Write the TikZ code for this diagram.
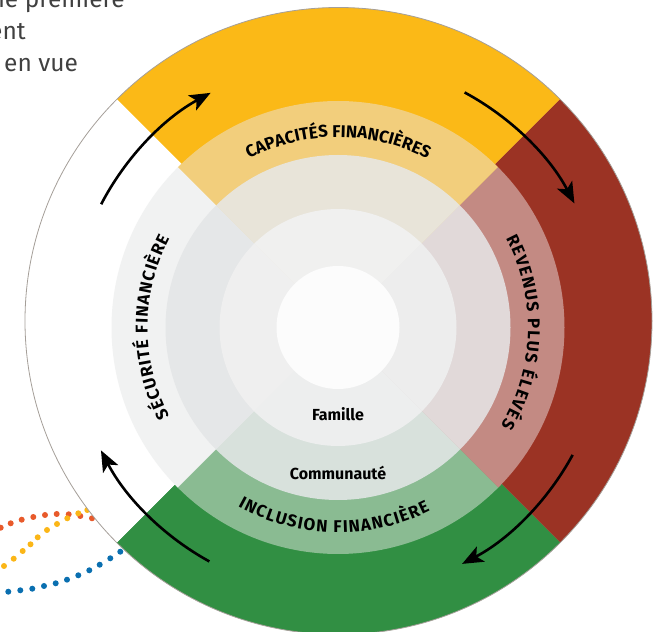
\documentclass[tikz,border=0pt]{standalone}
\usepackage{fontspec}
\setmainfont{Fira Sans}
\usetikzlibrary{decorations.text,arrows.meta,calc}
\definecolor{cyel}{HTML}{FBB917}
\definecolor{cred}{HTML}{9B3324}
\definecolor{cgrn}{HTML}{318F43}
\definecolor{lyel}{HTML}{F2CE7C}
\definecolor{lred}{HTML}{C38A83}
\definecolor{lgrn}{HTML}{8ABB92}
\definecolor{lwht}{HTML}{F1F2F2}
\definecolor{pyel}{HTML}{E8E4D9}
\definecolor{pred}{HTML}{E1D9D9}
\definecolor{pgrn}{HTML}{D8E1DC}
\definecolor{pwht}{HTML}{E5E7E8}
\definecolor{fyel}{HTML}{F0F0EF}
\definecolor{fred}{HTML}{EDEDED}
\definecolor{fgrn}{HTML}{EDEEEE}
\definecolor{fwht}{HTML}{EFEFEF}
\definecolor{core}{HTML}{FCFCFC}
\definecolor{rim}{HTML}{A59F99}
\definecolor{dotr}{HTML}{E85A2B}
\definecolor{doty}{HTML}{FBB617}
\definecolor{dotb}{HTML}{0A6FB0}
\definecolor{para}{HTML}{404040}
\newcommand{\lblfont}{\fontsize{17}{17}\selectfont\bfseries}
\begin{document}
\begin{tikzpicture}[x=1pt,y=1pt,
  cyclearrow/.style={line width=2.6pt,-{Stealth[length=21pt,width=17pt,inset=5pt]}},
  paratext/.style={font=\fontsize{24.5}{24.5}\selectfont,text=para,inner sep=0pt},
  innerlbl/.style={font=\fontsize{16}{16}\selectfont\bfseries,inner sep=0pt,anchor=base}]
\useasboundingbox (0,0) rectangle (659,632);
\coordinate (O) at (338.5,311);
\coordinate (C) at (338,304.5);

% dotted curves (beneath the circle)
\foreach \x/\y in {-10/532,0.7/527.7,10.7/523.3,21.7/519.7,33.3/517,45/515,56.7/514,68.7/514.3,80.3/516,92/518.3,103/521.5}
  \fill[dotr] (\x,{632-\y}) circle (3);
\foreach \x/\y in {-5/573.5,4/566,13.7/558.7,22.7/551,30.5/544.3,37.7/537.3,47/530,57/524,67.3/518.3,78.3/513.3,87.3/510,97/508}
  \fill[doty] (\x,{632-\y}) circle (3);
\foreach \x/\y in {-3.5/592.5,8.3/591.7,20.3/590.3,32.3/588.7,44/586,55.7/583.3,67/579.7,78.3/575.3,89.3/570.3,99.7/564.7,110.3/558.3,120.3/551.7,130/545}
  \fill[dotb] (\x,{632-\y}) circle (3);

% outer ring
\fill[cyel] (O) -- ($(O)+(45:313.5)$) arc[start angle=45,end angle=135,radius=313.5] -- cycle;
\fill[cred] (O) -- ($(O)+(-45:313.5)$) arc[start angle=-45,end angle=45,radius=313.5] -- cycle;
\fill[cgrn] (O) -- ($(O)+(-135:313.5)$) arc[start angle=-135,end angle=-45,radius=313.5] -- cycle;
\fill[white] (O) -- ($(O)+(135:313.5)$) arc[start angle=135,end angle=225,radius=313.5] -- cycle;
\draw[rim,line width=0.8pt] (O) circle (313.5);

% label ring
\fill[lyel] (C) -- ($(C)+(45:226.5)$) arc[start angle=45,end angle=135,radius=226.5] -- cycle;
\fill[lred] (C) -- ($(C)+(-45:226.5)$) arc[start angle=-45,end angle=45,radius=226.5] -- cycle;
\fill[lgrn] (C) -- ($(C)+(-135:226.5)$) arc[start angle=-135,end angle=-45,radius=226.5] -- cycle;
\fill[lwht] (C) -- ($(C)+(135:226.5)$) arc[start angle=135,end angle=225,radius=226.5] -- cycle;

% community ring
\fill[pyel] (C) -- ($(C)+(45:172.5)$) arc[start angle=45,end angle=135,radius=172.5] -- cycle;
\fill[pred] (C) -- ($(C)+(-45:172.5)$) arc[start angle=-45,end angle=45,radius=172.5] -- cycle;
\fill[pgrn] (C) -- ($(C)+(-135:172.5)$) arc[start angle=-135,end angle=-45,radius=172.5] -- cycle;
\fill[pwht] (C) -- ($(C)+(135:172.5)$) arc[start angle=135,end angle=225,radius=172.5] -- cycle;

% family ring
\fill[fyel] (C) -- ($(C)+(45:118.5)$) arc[start angle=45,end angle=135,radius=118.5] -- cycle;
\fill[fred] (C) -- ($(C)+(-45:118.5)$) arc[start angle=-45,end angle=45,radius=118.5] -- cycle;
\fill[fgrn] (C) -- ($(C)+(-135:118.5)$) arc[start angle=-135,end angle=-45,radius=118.5] -- cycle;
\fill[fwht] (C) -- ($(C)+(135:118.5)$) arc[start angle=135,end angle=225,radius=118.5] -- cycle;
\fill[core] (C) circle (61.5);

% curved labels
\path[decorate,decoration={text along path,text={|\lblfont|CAPACITÉS FINANCIÈRES},text align={fit to path}}]
  ($(C)+(117.8:190.5)$) arc[start angle=117.8,end angle=62.2,radius=190.5];
\path[decorate,decoration={text along path,text={|\lblfont|REVENUS PLUS ÉLEVÉS},text align={fit to path}}]
  ($(C)+(28:190)$) arc[start angle=28,end angle=-31,radius=190];
\path[decorate,decoration={text along path,text={|\lblfont|INCLUSION FINANCIÈRE},text align={fit to path}}]
  ($(C)+(-119.2:205)$) arc[start angle=-119.2,end angle=-63.3,radius=205];
\path[decorate,decoration={text along path,text={|\lblfont|SÉCURITÉ FINANCIÈRE},text align={fit to path}}]
  ($(C)+(207.7:190.5)$) arc[start angle=207.7,end angle=152.1,radius=190.5];

\node[innerlbl] (famille) at (338,211.3) {Famille};
\node[innerlbl] (communaute) at (338,152.5) {Communauté};

% cycle arrows
\draw[cyclearrow] ($(C)+(152.5:267)$) arc[start angle=152.5,end angle=118.5,radius=267];
\draw[cyclearrow] ($(C)+(61.7:267)$) arc[start angle=61.7,end angle=27.7,radius=267];
\draw[cyclearrow] ($(C)+(-28.5:267)$) arc[start angle=-28.5,end angle=-62.3,radius=267];
\draw[cyclearrow] ($(C)+(-118.8:267)$) arc[start angle=-118.8,end angle=-152.6,radius=267];

% clipped paragraph text
\node[paratext,anchor=base east] (p1) at (125,624.7) {ne première};
\node[paratext,anchor=base east] (p2) at (26,592.7) {ent};
\node[paratext,anchor=base east] (p3) at (78.3,560.3) {n en vue};
\end{tikzpicture}
\end{document}
